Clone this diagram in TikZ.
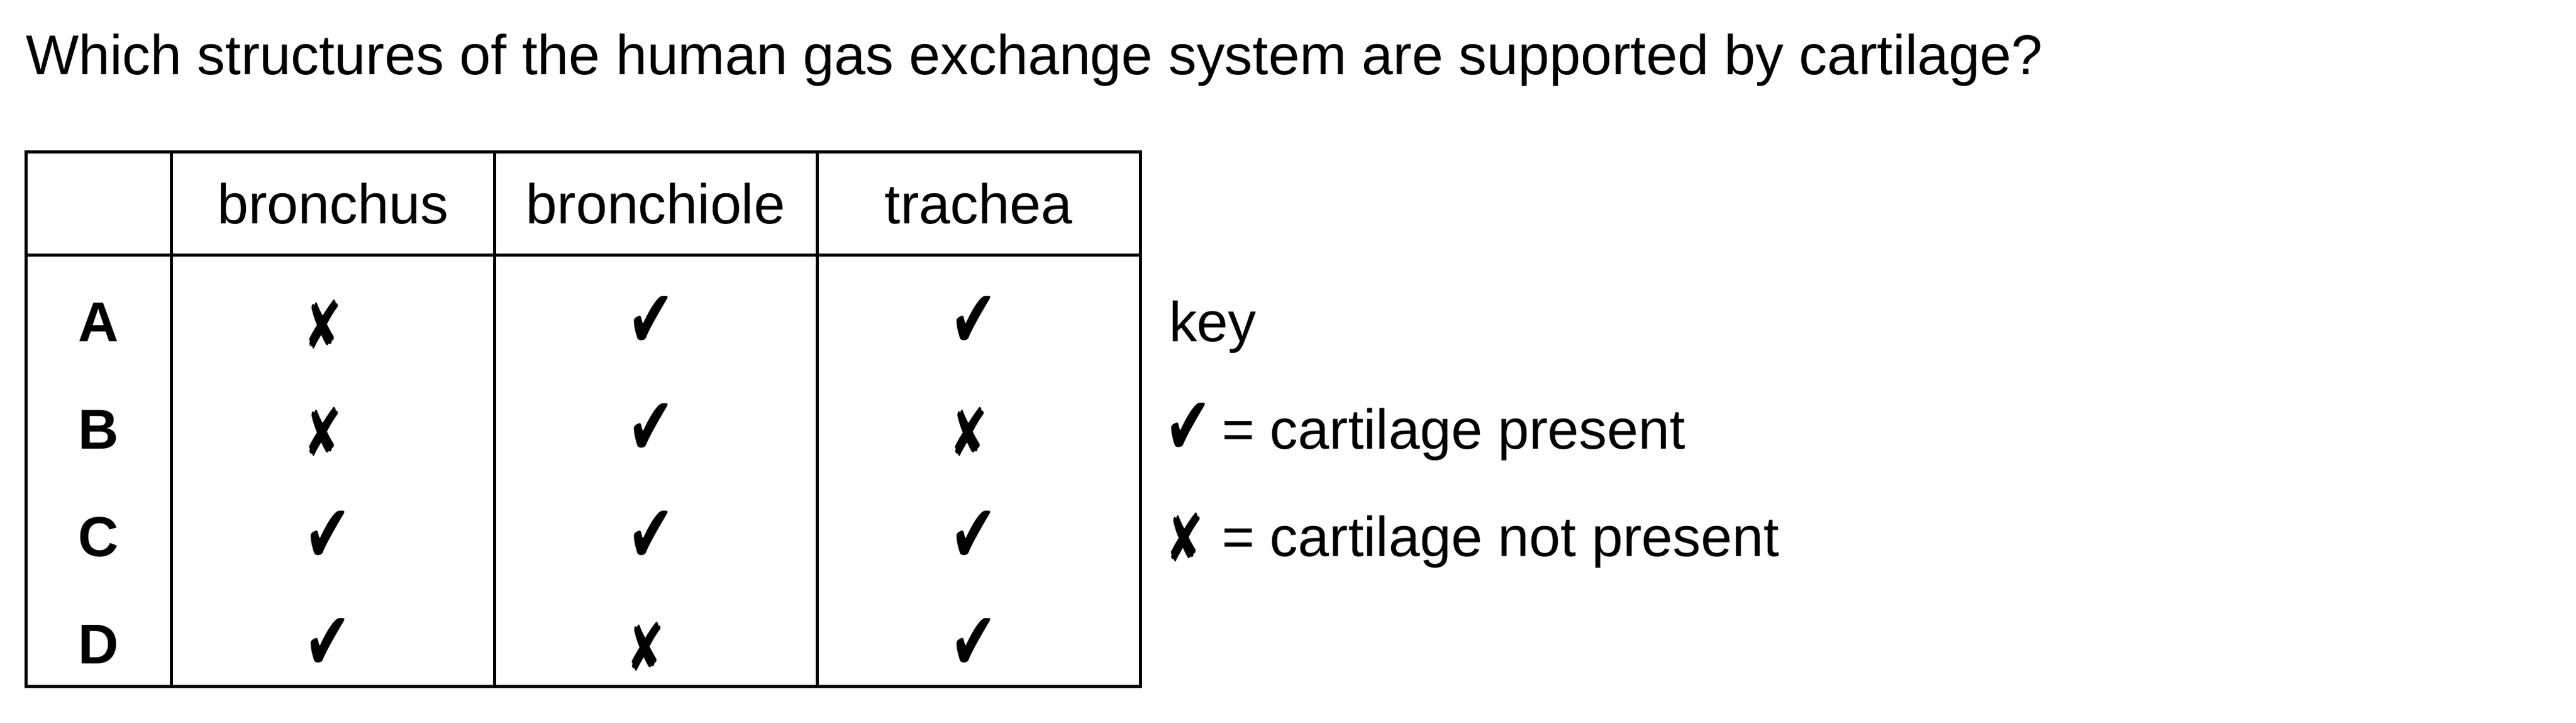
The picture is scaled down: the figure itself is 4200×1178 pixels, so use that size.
\documentclass[tikz,border=0pt]{standalone}
\usepackage{fontspec}
\setmainfont{Liberation Sans}
\newfontfamily\symfont{DejaVu Sans}
\newcommand{\yes}{\resizebox*{19pt}{21pt}{\symfont ✔}}
\newcommand{\no}{\resizebox*{15.5pt}{20pt}{\symfont ✘}}
\begin{document}
\begin{tikzpicture}[x=0.25pt,y=-0.25pt,
  every node/.style={inner sep=0pt,outer sep=0pt,font=\fontsize{22.9pt}{27pt}\selectfont},
  grid/.style={line width=1.25pt,line cap=rect},
  cell/.style={anchor=base},
  sym/.style={anchor=center},
  rowlab/.style={anchor=base,font=\fontsize{22.9pt}{27pt}\selectfont\bfseries},
  keytxt/.style={anchor=base west}]
\useasboundingbox (0,0) rectangle (4200,1178);
% title
\node[anchor=base west] (title) at (42,122) {Which structures of the human gas exchange system are supported by cartilage?};
% table grid
\coordinate (tl) at (42,247);
\coordinate (br) at (1859,1118);
\draw[grid] (tl) rectangle (br);
\draw[grid] (42,415) -- (1859,415);
\draw[grid] (279,247) -- (279,1118);
\draw[grid] (806,247) -- (806,1118);
\draw[grid] (1332,247) -- (1332,1118);
% header
\node[cell] (h1) at (542.5,364) {bronchus};
\node[cell] (h2) at (1069,364) {bronchiole};
\node[cell] (h3) at (1595.5,364) {trachea};
% row labels
\node[rowlab] (rA) at (160.5,556) {A};
\node[rowlab] (rB) at (160.5,731) {B};
\node[rowlab] (rC) at (160.5,906) {C};
\node[rowlab] (rD) at (160.5,1081) {D};
% cells: check centre (col-8, base-31.5), cross centre (col-16.5, base-27.5)
\node[sym] (a1) at (526,528.5) {\no};
\node[sym] (a2) at (1061,524.5) {\yes};
\node[sym] (a3) at (1587.5,524.5) {\yes};
\node[sym] (b1) at (526,703.5) {\no};
\node[sym] (b2) at (1061,699.5) {\yes};
\node[sym] (b3) at (1579,703.5) {\no};
\node[sym] (c1) at (534.5,874.5) {\yes};
\node[sym] (c2) at (1061,874.5) {\yes};
\node[sym] (c3) at (1587.5,874.5) {\yes};
\node[sym] (d1) at (534.5,1049.5) {\yes};
\node[sym] (d2) at (1052.5,1053.5) {\no};
\node[sym] (d3) at (1587.5,1049.5) {\yes};
% key
\node[keytxt] (key) at (1906,556) {key};
\node[sym] (k1s) at (1937,698) {\yes};
\node[keytxt] (k1) at (1992,731) {= cartilage present};
\node[sym] (k2s) at (1931,875.5) {\no};
\node[keytxt] (k2) at (1992,906) {= cartilage not present};
\end{tikzpicture}
\end{document}
